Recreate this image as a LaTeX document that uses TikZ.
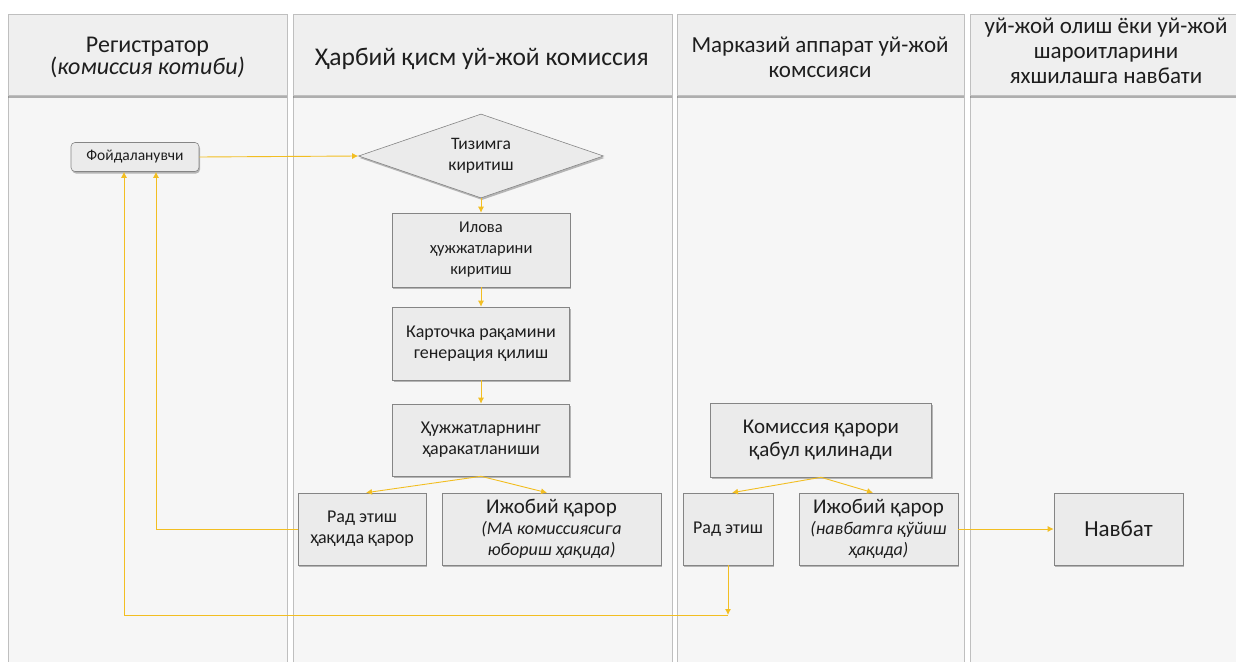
\documentclass[tikz,border=0pt]{standalone}
\usepackage{fontspec}
\setmainfont{Carlito}
\usetikzlibrary{shapes.geometric,arrows.meta,shadows}

\definecolor{lanebg}{HTML}{F6F6F6}
\definecolor{headbg}{HTML}{EFEFEF}
\definecolor{laneline}{HTML}{BFBFBF}
\definecolor{boxfill}{HTML}{EBEBEB}
\definecolor{boxline}{HTML}{858585}
\definecolor{flowc}{HTML}{F2BE22}
\definecolor{txt}{HTML}{1E1E1E}

\newcommand{\fs}[2]{\fontsize{#1}{#2}\selectfont}

\tikzset{
  lane/.style={draw=laneline, line width=0.8pt, fill=lanebg},
  head/.style={draw=laneline, line width=0.8pt, fill=headbg,
    drop shadow={shadow xshift=0pt, shadow yshift=-2.5pt, opacity=.55, fill=black!55}},
  headtext/.style={text=txt, align=center},
  proc/.style={draw=boxline, line width=0.6pt, fill=boxfill, text=txt,
    align=center, inner sep=2pt, font=\fs{18}{21},
    drop shadow={shadow xshift=1pt, shadow yshift=-2pt, opacity=.45, fill=black!60}},
  decision/.style={proc, diamond, aspect=2.9, inner sep=0pt},
  flow/.style={draw=flowc, line width=0.9pt, -{Latex[length=6pt,width=6pt]}},
}

\begin{document}
\begin{tikzpicture}[x=1pt,y=-1pt]
\useasboundingbox (0,0) rectangle (1236,661);
\fill[white] (0,0) rectangle (1236,661);

% swimlanes
\draw[lane] (8,14) rectangle (287,680);
\draw[lane] (293,14) rectangle (672,680);
\draw[lane] (677,14) rectangle (964,680);
\draw[lane] (970,14) rectangle (1250,680);

% lane headers
\path[head] (8,14) rectangle (287,95);
\path[head] (293,14) rectangle (672,95);
\path[head] (677,14) rectangle (964,95);
\path[head] (970,14) rectangle (1250,95);

\node[headtext, font=\fs{24}{22}] (h1) at (147.5,57) {Регистратор\\(\textit{комиссия котиби)}};
\node[headtext, font=\fs{25.5}{26}] (h2) at (482,59) {Ҳарбий қисм уй-жой комиссия};
\node[headtext, font=\fs{23}{25}] (h3) at (820,57) {Марказий аппарат уй-жой\\комссияси};
\node[headtext, font=\fs{23}{25}] (h4) at (1106,51) {уй-жой олиш ёки уй-жой\\шароитларини\\яхшилашга навбати};

% process steps
\node[proc, rounded corners=4pt, minimum width=128pt, minimum height=29pt,
      font=\fs{15.5}{18}] (foyd) at (135,157) {Фойдаланувчи};
\node[decision, minimum width=245pt, minimum height=84pt, font=\fs{17.5}{21}] (tiz) at (481,156) {Тизимга\\киритиш};
\node[proc, minimum width=178pt, minimum height=74pt, font=\fs{16.5}{21}] (ilova) at (481,250) {Илова\\ҳужжатларини\\киритиш};
\node[proc, minimum width=177pt, minimum height=73pt] (kart) at (481,343.5) {Карточка рақамини\\генерация қилиш};
\node[proc, minimum width=177pt, minimum height=72pt] (hujj) at (481,440) {Ҳужжатларнинг\\ҳаракатланиши};
\node[proc, minimum width=128pt, minimum height=72pt] (rad1) at (362,529) {Рад этиш\\ҳақида қарор};
\node[proc, minimum width=219pt, minimum height=72pt] (ijob1) at (551.5,529)
  {{\fs{21}{22}Ижобий қарор}\\\textit{(МА комиссиясига}\\\textit{юбориш ҳақида)}};
\node[proc, minimum width=221pt, minimum height=74pt, font=\fs{21}{23}] (kom) at (821,440) {Комиссия қарори\\қабул қилинади};
\node[proc, minimum width=90pt, minimum height=72pt] (rad3) at (728,529) {Рад этиш};
\node[proc, minimum width=159pt, minimum height=72pt] (ijob3) at (878.5,529)
  {{\fs{21}{22}Ижобий қарор}\\\textit{(навбатга қўйиш}\\\textit{ҳақида)}};
\node[proc, minimum width=129pt, minimum height=72pt, font=\fs{23}{26}] (navbat) at (1118.5,529) {Навбат};

% connectors
\draw[flow] (foyd.east) -- (tiz.west);
\draw[flow] (tiz.south) -- (ilova.north);
\draw[flow] (ilova) -- (kart);
\draw[flow] (kart) -- (hujj);
\draw[flow] (hujj.south) -- ([xshift=4pt]rad1.north);
\draw[flow] (hujj.south) -- ([xshift=-4.5pt]ijob1.north);
\draw[flow] (kom.south) -- ([xshift=4pt]rad3.north);
\draw[flow] (kom.south) -- ([xshift=-5.5pt]ijob3.north);
\draw[flow] (ijob3.east) -- (navbat.west);
\draw[flow] (rad1.west) -| ([xshift=21pt]foyd.south);

\coordinate (corner) at (rad3.south |- 0,615);
\draw[flow] (rad3.south) -- (corner);
\draw[flow] (corner) -- (124,615) -- ([xshift=-11pt]foyd.south);
\end{tikzpicture}
\end{document}
